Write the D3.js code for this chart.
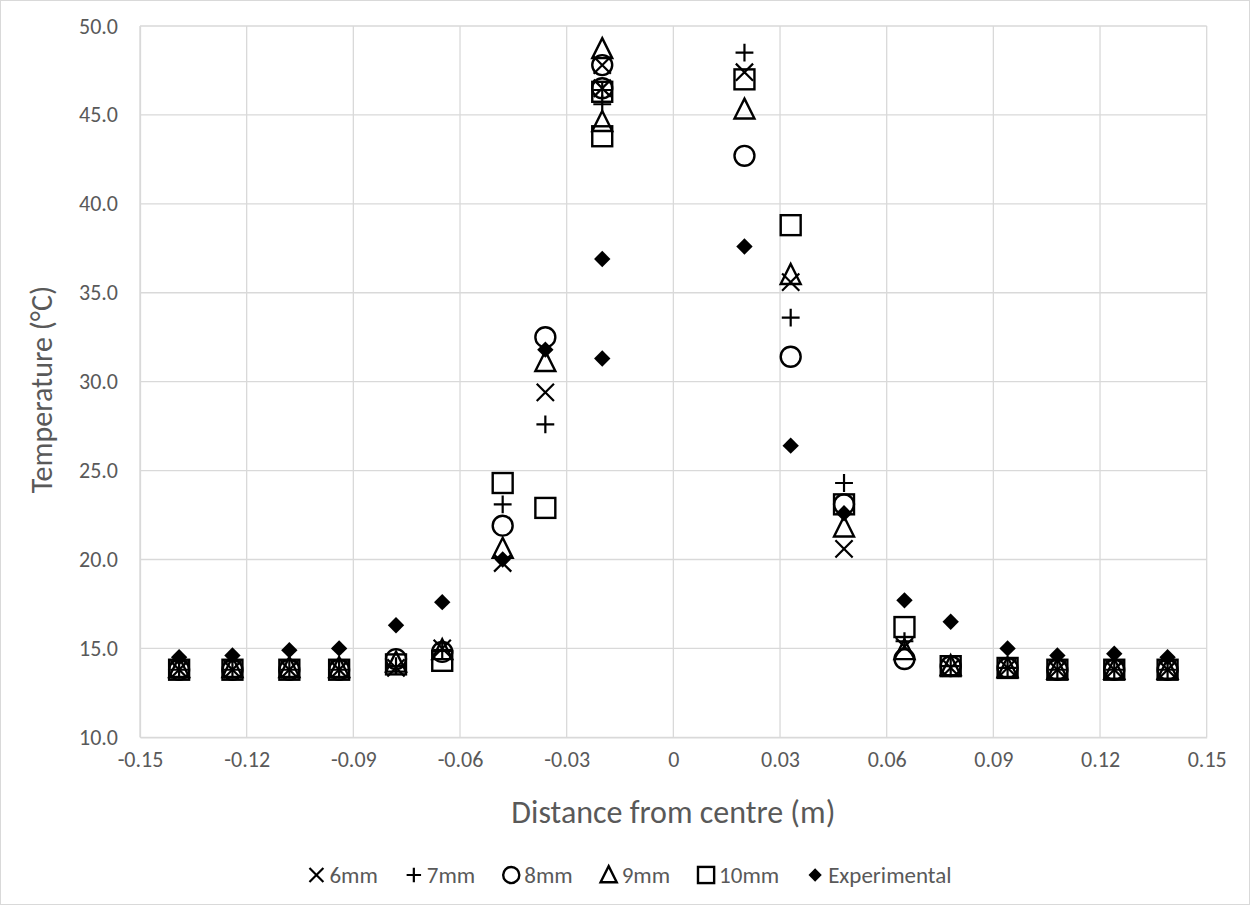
<!DOCTYPE html>
<html>
<head>
<meta charset="utf-8">
<script src="https://cdn.jsdelivr.net/npm/d3@7"></script>
<style>
  body { margin: 0; background: #fff; }
  svg { display: block; font-family: Carlito, Calibri, Lato, "Open Sans", sans-serif; }
</style>
</head>
<body>
<svg id="chart" width="1250" height="905"></svg>
<script>
// Probe positions across the section (m)
const distances = [-0.139, -0.124, -0.108, -0.094, -0.078, -0.065, -0.048, -0.036, -0.020, -0.020,
                   0.020, 0.033, 0.048, 0.065, 0.078, 0.094, 0.108, 0.124, 0.139];

// Simulated temperatures (°C) for each mesh size, plus measurements
const temp6mm  = [13.8, 13.8, 13.8, 13.8, 13.9, 15.0, 19.8, 29.4, 47.8, 46.5, 47.4, 35.6, 20.6, 15.1, 13.9, 13.9, 13.8, 13.8, 13.8];
const temp7mm  = [13.8, 13.8, 13.8, 13.8, 14.0, 14.9, 23.1, 27.6, 46.4, 45.6, 48.5, 33.6, 24.3, 15.4, 14.0, 13.9, 13.8, 13.8, 13.8];
const temp8mm  = [13.8, 13.8, 13.8, 13.8, 14.4, 14.8, 21.9, 32.5, 47.8, 46.5, 42.7, 31.4, 23.1, 14.4, 14.0, 13.9, 13.8, 13.8, 13.8];
const temp9mm  = [13.9, 13.9, 13.9, 13.9, 14.2, 14.9, 20.6, 31.1, 48.7, 44.6, 45.3, 36.0, 21.8, 14.9, 14.0, 13.9, 13.8, 13.8, 13.8];
const temp10mm = [13.8, 13.8, 13.8, 13.8, 14.1, 14.3, 24.3, 22.9, 46.3, 43.8, 47.0, 38.8, 23.1, 16.2, 14.0, 13.9, 13.8, 13.8, 13.8];
const tempExp  = [14.5, 14.6, 14.9, 15.0, 16.3, 17.6, 20.0, 31.8, 36.9, 31.3, 37.6, 26.4, 22.6, 17.7, 16.5, 15.0, 14.6, 14.7, 14.5];

const seriesNames = ["6mm", "7mm", "8mm", "9mm", "10mm", "Experimental"];
const seriesValues = [temp6mm, temp7mm, temp8mm, temp9mm, temp10mm, tempExp];
const seriesMarkers = ["x", "plus", "circle", "triangle", "square", "diamond"];

const xTicks = [-0.15, -0.12, -0.09, -0.06, -0.03, 0, 0.03, 0.06, 0.09, 0.12, 0.15];
const yTicks = [10, 15, 20, 25, 30, 35, 40, 45, 50];

const svg = d3.select("#chart");
const W = 1250, H = 905;
const plot = { left: 140, right: 1206.7, top: 26, bottom: 737.3 };

const x = d3.scaleLinear().domain([-0.15, 0.15]).range([plot.left, plot.right]);
const y = d3.scaleLinear().domain([10, 50]).range([plot.bottom, plot.top]);

const textColor = "#595959";
const gridColor = "#d9d9d9";
const fontStack = "Carlito, Calibri, Lato, sans-serif";

// outer frame
svg.append("rect")
  .attr("x", 0.5).attr("y", 0.5).attr("width", W - 1).attr("height", H - 1)
  .attr("fill", "#fff").attr("stroke", gridColor);

// gridlines
svg.append("g").selectAll("line").data(yTicks).join("line")
  .attr("x1", plot.left).attr("x2", plot.right)
  .attr("y1", d => y(d)).attr("y2", d => y(d))
  .attr("stroke", gridColor).attr("stroke-width", 1.3);

svg.append("g").selectAll("line").data(xTicks).join("line")
  .attr("x1", d => x(d)).attr("x2", d => x(d))
  .attr("y1", plot.top).attr("y2", plot.bottom)
  .attr("stroke", gridColor).attr("stroke-width", 1.3);

// axes via d3 axis generators, styled like the chart
const fmt2 = d3.format(".2f");
const xAxis = d3.axisBottom(x).tickValues(xTicks).tickSize(0).tickPadding(14)
  .tickFormat(d => d === 0 ? "0" : fmt2(d).replace("\u2212", "-"));
const gx = svg.append("g").attr("transform", `translate(0,${plot.bottom})`).call(xAxis);
gx.select(".domain").attr("stroke", gridColor).attr("stroke-width", 1.3);
gx.selectAll("text").attr("fill", textColor).attr("font-size", 22)
  .attr("font-family", fontStack);

const yAxis = d3.axisLeft(y).tickValues(yTicks).tickSize(0).tickPadding(22)
  .tickFormat(d3.format(".1f"));
const gy = svg.append("g").attr("transform", `translate(${plot.left},0)`).call(yAxis);
gy.select(".domain").attr("stroke", gridColor).attr("stroke-width", 1.3);
gy.selectAll("text").attr("fill", textColor).attr("font-size", 22)
  .attr("font-family", fontStack);

// axis titles
svg.append("text")
  .attr("x", (plot.left + plot.right) / 2).attr("y", 823)
  .attr("text-anchor", "middle").attr("fill", textColor).attr("font-size", 32)
  .text("Distance from centre (m)");

svg.append("text")
  .attr("transform", `translate(52,${(plot.top + plot.bottom) / 2 + 8}) rotate(-90)`)
  .attr("text-anchor", "middle").attr("fill", textColor).attr("font-size", 30)
  .text("Temperature (°C)");

// marker drawing
function drawMarker(g, type, s) {
  const h = s / 2;
  if (type === "x") {
    const a = h * 0.82;
    g.append("path").attr("d", `M${-a},${-a}L${a},${a}M${-a},${a}L${a},${-a}`)
      .attr("stroke", "#000").attr("stroke-width", 2.2).attr("fill", "none");
  } else if (type === "plus") {
    const a = h * 0.85;
    g.append("path").attr("d", `M${-a},0L${a},0M0,${-a}L0,${a}`)
      .attr("stroke", "#000").attr("stroke-width", 2.2).attr("fill", "none");
  } else if (type === "circle") {
    g.append("circle").attr("r", h * 0.95)
      .attr("stroke", "#000").attr("stroke-width", 2.4).attr("fill", "none");
  } else if (type === "triangle") {
    const a = h * 0.95;
    g.append("path").attr("d", `M0,${-a * 1.1}L${a},${a * 0.9}L${-a},${a * 0.9}Z`)
      .attr("stroke", "#000").attr("stroke-width", 2.4).attr("fill", "none")
      .attr("stroke-linejoin", "miter");
  } else if (type === "square") {
    const a = h * 0.95;
    g.append("rect").attr("x", -a).attr("y", -a).attr("width", 2 * a).attr("height", 2 * a)
      .attr("stroke", "#000").attr("stroke-width", 2.4).attr("fill", "none");
  } else if (type === "diamond") {
    const a = h * 0.78;
    g.append("path").attr("d", `M0,${-a}L${a},0L0,${a}L${-a},0Z`).attr("fill", "#000");
  }
}

// series points
const markerSize = 21;
seriesValues.forEach((vals, si) => {
  const layer = svg.append("g").attr("class", "series-" + seriesNames[si]);
  vals.forEach((v, i) => {
    const g = layer.append("g").attr("transform", `translate(${x(distances[i])},${y(v)})`);
    drawMarker(g, seriesMarkers[si], markerSize);
  });
});

// legend
const legend = svg.append("g");
let cursor = 0;
seriesNames.forEach((name, i) => {
  const g = legend.append("g");
  const m = g.append("g").attr("transform", `translate(8,0)`);
  drawMarker(m, seriesMarkers[i], 17);
  const t = g.append("text").attr("x", 21).attr("y", 8)
    .attr("fill", textColor).attr("font-size", 23).text(name);
  const w = 21 + t.node().getComputedTextLength();
  g.attr("transform", `translate(${cursor},0)`);
  cursor += w + 28;
});
const legendWidth = cursor - 28;
legend.attr("transform", `translate(${630 - legendWidth / 2},${875})`);
</script>
</body>
</html>
